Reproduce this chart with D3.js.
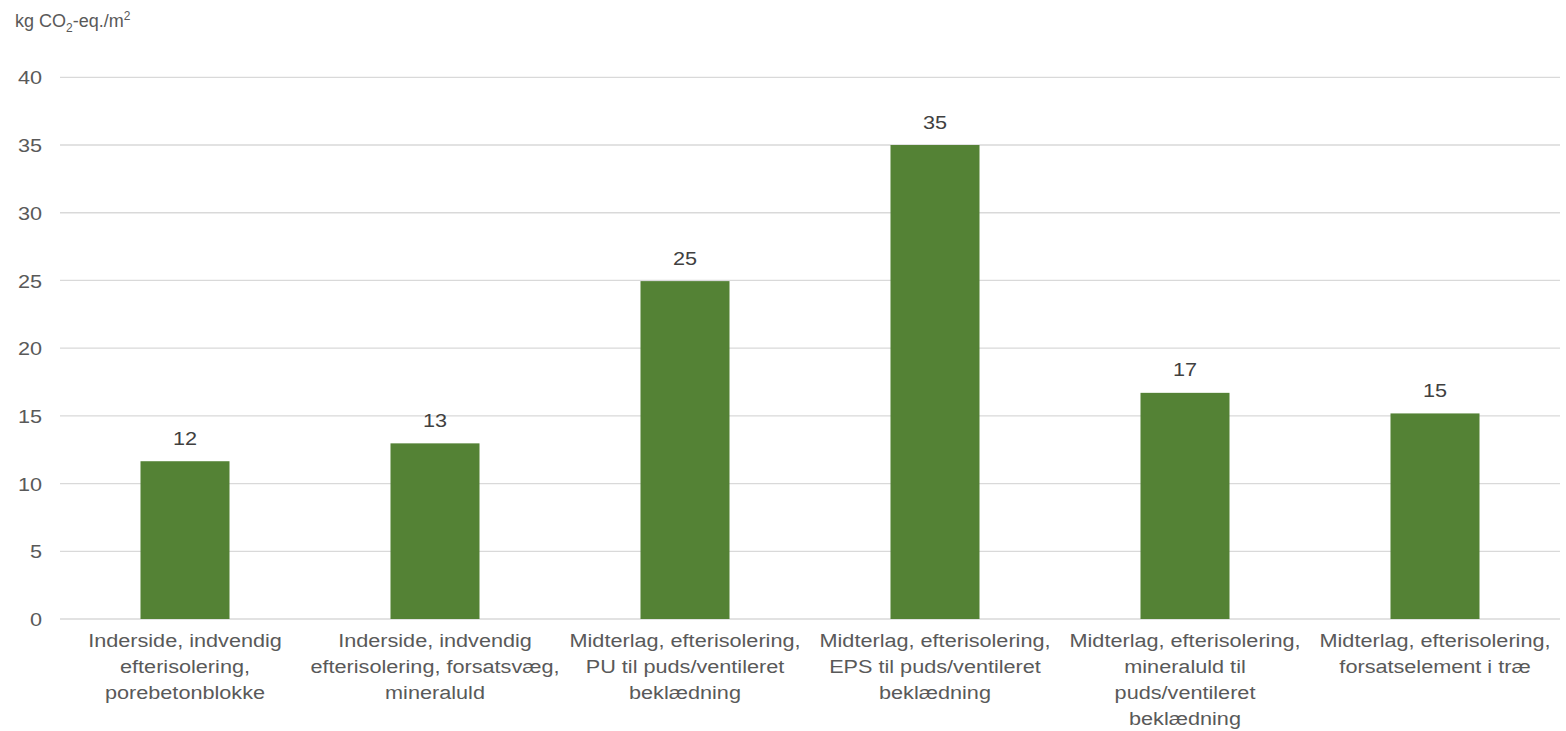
<!DOCTYPE html>
<html><head><meta charset="utf-8">
<script src="https://cdn.jsdelivr.net/npm/d3@7"></script>
<style>
html,body{margin:0;padding:0;background:#fff;}
svg{display:block;font-family:"Liberation Sans",Arial,sans-serif;}
</style></head>
<body>
<svg id="chart" width="1566" height="731"></svg>
<script>
const categories = [
  ["Inderside, indvendig","efterisolering,","porebetonblokke"],
  ["Inderside, indvendig","efterisolering, forsatsvæg,","mineraluld"],
  ["Midterlag, efterisolering,","PU til puds/ventileret","beklædning"],
  ["Midterlag, efterisolering,","EPS til puds/ventileret","beklædning"],
  ["Midterlag, efterisolering,","mineraluld til","puds/ventileret","beklædning"],
  ["Midterlag, efterisolering,","forsatselement i træ"]
];
const values = [11.65, 12.97, 24.95, 35.0, 16.7, 15.18];
const labels = ["12","13","25","35","17","15"];
const yTicks = [0,5,10,15,20,25,30,35,40];

(function(){
const svg = d3.select("#chart");
const mLeft = 60, mRight = 1560, mTop = 77.3, mBottom = 619;
const FS = 19, SX = 1.14;
const x = d3.scaleBand().domain(d3.range(categories.length)).range([mLeft, mRight]).paddingInner(0).paddingOuter(0);
const y = d3.scaleLinear().domain([0, 40]).range([mBottom, mTop]);
const barW = 89;
const cx = i => x(i) + x.bandwidth() / 2;

// gridlines
svg.append("g").selectAll("line").data(yTicks).join("line")
  .attr("x1", mLeft).attr("x2", mRight)
  .attr("y1", d => y(d)).attr("y2", d => y(d))
  .attr("stroke", "#d9d9d9").attr("stroke-width", 1.3);

// y axis labels
const yAxis = d3.axisLeft(y).tickValues(yTicks).tickSize(0).tickPadding(0);
const ya = svg.append("g").attr("transform", `translate(42,0)`).call(yAxis);
ya.select(".domain").remove();
ya.selectAll("text").attr("font-size", FS).attr("fill", "#595959")
  .attr("font-family", "'Liberation Sans', Arial, sans-serif").attr("dy", "0.35em")
  .attr("transform", `scale(${SX},1)`);

// bars
svg.append("g").selectAll("rect").data(values).join("rect")
  .attr("x", (d, i) => cx(i) - barW / 2)
  .attr("width", barW)
  .attr("y", d => y(d))
  .attr("height", d => y(0) - y(d))
  .attr("fill", "#548235");

// value labels
svg.append("g").selectAll("text").data(values).join("text")
  .attr("transform", (d, i) => `translate(${cx(i)},${y(d) - 23}) scale(${SX},1)`)
  .attr("dy", "0.35em")
  .attr("text-anchor", "middle")
  .attr("font-size", FS).attr("fill", "#404040")
  .text((d, i) => labels[i]);

// category labels
const cg = svg.append("g").selectAll("text").data(categories).join("text")
  .attr("transform", (d, i) => `translate(${cx(i)},0) scale(${SX},1)`)
  .attr("text-anchor", "middle").attr("font-size", FS).attr("fill", "#595959");
cg.each(function(lines) {
  const t = d3.select(this);
  lines.forEach((ln, j) => {
    t.append("tspan").attr("x", 0)
      .attr("y", 640 + j * 26).attr("dy", "0.35em").text(ln);
  });
});

// axis title
const title = svg.append("text").attr("x", 15).attr("y", 27)
  .attr("font-size", 18).attr("fill", "#595959");
title.append("tspan").text("kg CO");
title.append("tspan").attr("font-size", 12).attr("dy", 5).text("2");
title.append("tspan").attr("dy", -5).text("-eq./m");
title.append("tspan").attr("font-size", 12).attr("dy", -7).text("2");
})();
</script>
</body></html>
